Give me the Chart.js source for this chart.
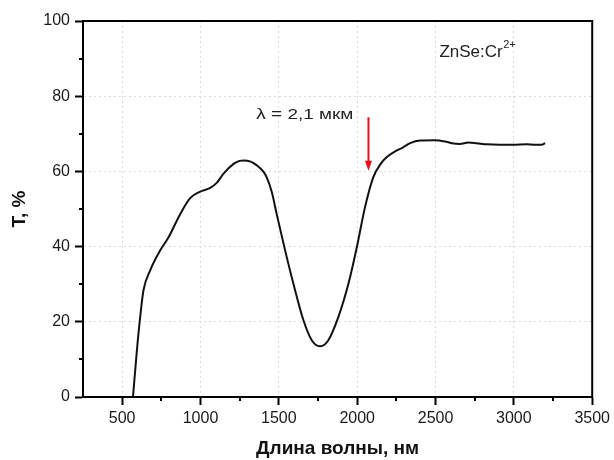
<!DOCTYPE html>
<html>
<head>
<meta charset="utf-8">
<script src="https://cdn.jsdelivr.net/npm/chart.js@4/dist/chart.umd.min.js"></script>
<style>
  html, body { margin: 0; padding: 0; background: #fff; }
  #wrap { width: 614px; height: 460px; }
</style>
</head>
<body>
<div id="wrap"><canvas id="chart"></canvas></div>
<script>
// Transmission spectrum of ZnSe:Cr2+ (wavelength in nm, T in %)
const wavelength = [
  569, 594, 615, 636, 679, 743, 796, 871, 934, 998, 1062, 1105, 1147, 1211, 1250, 1274,
  1320, 1360, 1400, 1424, 1455, 1487, 1540, 1593, 1657, 1710, 1763, 1816, 1880, 1944,
  1998, 2050, 2103, 2150, 2189, 2253, 2285, 2338, 2401, 2497, 2561, 2603, 2656,
  2709, 2763, 2827, 2912, 2996, 3082, 3135, 3178, 3199
];
const transmission = [
  0, 12.4, 21.3, 28.4, 33.7, 39.0, 42.5, 48.7, 52.9, 54.6, 55.6, 57.0, 59.4, 62.0, 62.8, 62.9,
  62.6, 61.6, 60.0, 58.3, 54.5, 48.5, 39.0, 30.1, 20.4, 15.1, 13.5, 15.1, 21.3, 30.1,
  39.9, 50.5, 58.5, 62.0, 63.8, 65.6, 66.2, 67.5, 68.2, 68.3, 67.95, 67.5, 67.3,
  67.7, 67.5, 67.2, 67.1, 67.1, 67.2, 67.1, 67.1, 67.5
];

const xTicks = [500, 1000, 1500, 2000, 2500, 3000, 3500];
const xMinorTicks = [750, 1250, 1750, 2250, 2750, 3250];
const yTicks = [0, 20, 40, 60, 80, 100];
const yMinorTicks = [10, 30, 50, 70, 90];

// annotation: arrow at 2.1 um
const arrowX = 2072;
const arrowFrom = 74.4;
const arrowTo = 60.2;
const arrowLabel = "λ = 2,1 мкм";
const arrowLabelPos = { x: 1666, y: 75.0 };
const sampleLabelPos = { x: 2525, y: 91.6 };

const FONT = '"Liberation Sans", Arial, sans-serif';

const framePlugin = {
  id: "frame",
  afterDraw(chart) {
    const { ctx, chartArea: a, scales: { x, y } } = chart;
    ctx.save();
    // minor ticks
    ctx.strokeStyle = "#000";
    ctx.lineWidth = 2;
    ctx.beginPath();
    xMinorTicks.forEach(v => {
      const px = Math.round(x.getPixelForValue(v));
      ctx.moveTo(px, a.bottom);
      ctx.lineTo(px, a.bottom + 4);
    });
    yMinorTicks.forEach(v => {
      const py = Math.round(y.getPixelForValue(v));
      ctx.moveTo(a.left, py);
      ctx.lineTo(a.left - 4, py);
    });
    ctx.stroke();
    // box
    ctx.lineWidth = 2;
    ctx.strokeRect(a.left, a.top, a.right - a.left, a.bottom - a.top);

    // red arrow
    const ax = x.getPixelForValue(arrowX);
    const y1 = y.getPixelForValue(arrowFrom);
    const y2 = y.getPixelForValue(arrowTo);
    ctx.strokeStyle = "#e3101c";
    ctx.fillStyle = "#e3101c";
    ctx.lineWidth = 2;
    ctx.beginPath();
    ctx.moveTo(ax, y1);
    ctx.lineTo(ax, y2 - 8);
    ctx.stroke();
    ctx.beginPath();
    ctx.moveTo(ax - 3.5, y2 - 10);
    ctx.lineTo(ax + 3.5, y2 - 10);
    ctx.lineTo(ax, y2);
    ctx.closePath();
    ctx.fill();

    // labels
    ctx.fillStyle = "#222";
    ctx.textBaseline = "middle";
    ctx.font = "15px " + FONT;
    ctx.textAlign = "center";
    const lx = x.getPixelForValue(arrowLabelPos.x);
    const ly = y.getPixelForValue(arrowLabelPos.y);
    const lw = ctx.measureText(arrowLabel).width;
    ctx.save();
    ctx.translate(lx, ly);
    ctx.scale(Math.min(1.3, 97 / lw), 1);
    ctx.fillText(arrowLabel, 0, 0);
    ctx.restore();

    ctx.textAlign = "left";
    ctx.font = "17px " + FONT;
    const sx = x.getPixelForValue(sampleLabelPos.x);
    const sy = y.getPixelForValue(sampleLabelPos.y);
    ctx.fillText("ZnSe:Cr", sx, sy);
    const w = ctx.measureText("ZnSe:Cr").width;
    ctx.font = "11px " + FONT;
    ctx.fillText("2+", sx + w + 0.5, sy - 8);
    ctx.restore();
  }
};

new Chart(document.getElementById("chart"), {
  type: "line",
  data: {
    datasets: [{
      data: wavelength.map((w, i) => ({ x: w, y: transmission[i] })),
      borderColor: "#111",
      borderWidth: 2,
      pointRadius: 0,
      cubicInterpolationMode: "monotone",
      fill: false
    }]
  },
  options: {
    responsive: true,
    maintainAspectRatio: false,
    animation: false,
    layout: { padding: { top: 21, right: 21, left: 0, bottom: 0 } },
    plugins: { legend: { display: false }, tooltip: { enabled: false } },
    scales: {
      x: {
        type: "linear",
        min: 250,
        max: 3500,
        afterBuildTicks: s => { s.ticks = xTicks.map(v => ({ value: v })); },
        afterFit: s => { s.height = 63; },
        grid: {
          color: c => (c.tick && c.tick.value < 3500) ? "#dadada" : "rgba(0,0,0,0)",
          lineWidth: 1,
          drawTicks: true,
          tickLength: 8,
          tickColor: "#000",
          tickWidth: 2,
          tickBorderDash: []
        },
        border: { display: true, color: "#000", width: 2, dash: [2, 3] },
        ticks: {
          color: "#1a1a1a",
          font: { family: FONT, size: 16 },
          padding: 4,
          maxRotation: 0,
          autoSkip: false,
          callback: v => String(v)
        },
        title: {
          display: true,
          text: "Длина волны, нм",
          color: "#111",
          font: { family: FONT, size: 19, weight: "bold" },
          padding: { top: 0, bottom: 0 }
        }
      },
      y: {
        min: 0,
        max: 100,
        afterBuildTicks: s => { s.ticks = yTicks.map(v => ({ value: v })); },
        afterFit: s => { s.width = 83; },
        grid: {
          color: c => (c.tick && c.tick.value > 0 && c.tick.value < 100) ? "#dadada" : "rgba(0,0,0,0)",
          lineWidth: 1,
          drawTicks: true,
          tickLength: 8,
          tickColor: "#000",
          tickWidth: 2,
          tickBorderDash: []
        },
        border: { display: true, color: "#000", width: 2, dash: [2, 3] },
        ticks: {
          color: "#1a1a1a",
          font: { family: FONT, size: 16 },
          padding: 5,
          callback: v => String(v)
        },
        title: {
          display: true,
          text: "T, %",
          color: "#111",
          font: { family: FONT, size: 19, weight: "bold" },
          padding: { top: 8, bottom: 0 }
        }
      }
    }
  },
  plugins: [framePlugin]
});
</script>
</body>
</html>
